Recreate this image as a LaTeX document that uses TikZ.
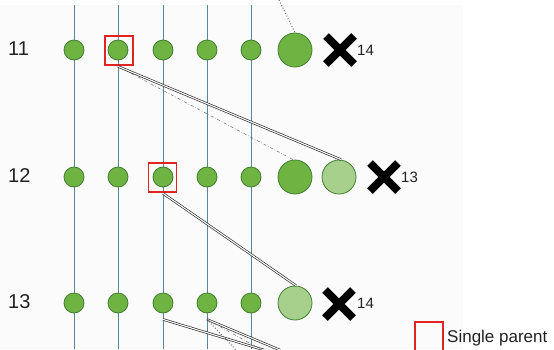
\documentclass[tikz,border=0pt]{standalone}
\usepackage{fontspec}
\setmainfont{Liberation Sans}
\definecolor{gfill}{HTML}{6FB443}
\definecolor{gdraw}{HTML}{3F7F2F}
\definecolor{glight}{HTML}{A8D08D}
\definecolor{vline}{HTML}{5585A0}
\definecolor{boxred}{HTML}{E02424}
\definecolor{txt}{HTML}{222222}
\begin{document}
\begin{tikzpicture}[x=1pt,y=-1pt,
  small/.style={circle, minimum size=20pt, inner sep=0pt, fill=gfill, draw=gdraw, line width=0.8pt},
  big/.style={circle, minimum size=34pt, inner sep=0pt, fill=gfill, draw=gdraw, line width=0.8pt},
  bigl/.style={big, fill=glight},
  rowlab/.style={anchor=base west, inner sep=0pt, text=txt, font=\fontsize{20}{22}\selectfont},
  numlab/.style={anchor=base west, inner sep=0pt, text=txt, font=\fontsize{15}{17}\selectfont},
  redbox/.style={rectangle, minimum width=28pt, minimum height=29pt, inner sep=0pt, draw=boxred, line width=1.3pt},
  xmark/.style={circle, minimum size=50pt, inner sep=0pt,
    path picture={
      \draw[line width=8pt,black] ([shift={(-14pt,-14pt)}]path picture bounding box.center) -- ([shift={(14pt,14pt)}]path picture bounding box.center);
      \draw[line width=8pt,black] ([shift={(-14pt,14pt)}]path picture bounding box.center) -- ([shift={(14pt,-14pt)}]path picture bounding box.center);
    }},
  vert/.style={draw=vline, line width=1pt},
  dbl/.style={draw=black!85, line width=0.65pt, double=white, double distance=1.1pt},
  dashdotline/.style={draw=black!60, line width=0.5pt, dash dot},
  dotline/.style={draw=black!65, line width=0.9pt, dotted}
]
\useasboundingbox (0,0) rectangle (554,349);
\fill[black!1.5] (0,5) rectangle (463,349);

% vertical lines
\foreach \i/\x in {1/74,2/118,3/163,4/207,5/251}{
  \coordinate (t\i) at (\x,5);
  \coordinate (u\i) at (\x,349);
  \draw[vert] (t\i) -- (u\i);
}

% row labels
\node[rowlab] (r11) at (8,55) {11};
\node[rowlab] (r12) at (8,182) {12};
\node[rowlab] (r13) at (8,308) {13};

% circles
\foreach \i/\x in {1/74,2/118,3/163,4/207,5/251}{
  \node[small] (a\i) at (\x,50) {};
  \node[small] (b\i) at (\x,177) {};
  \node[small] (d\i) at (\x,303) {};
}
\node[big]  (A)  at (295,50) {};
\node[big]  (B1) at (295,177) {};
\node[bigl] (B2) at (339,177) {};
\node[bigl] (D)  at (295,303) {};

% red boxes
\node[redbox] (s11) at (119,50.5) {};
\node[redbox] (s12) at (162.5,177.5) {};

% X marks and numbers
\node[xmark] (x11) at (340,50) {};
\node[numlab] (n11) at (357,55) {14};
\node[xmark] (x12) at (384,177) {};
\node[numlab] (n12) at (401,182) {13};
\node[xmark] (x13) at (339,304) {};
\node[numlab] (n13) at (357,308) {14};

% connectors
\coordinate (top) at (279,0);
\draw[dotline] (top) -- (A.north);
\draw[dashdotline] ([yshift=-6pt]a2.south) -- ([xshift=-2pt]B1.north);
\draw[dbl] ([yshift=-6pt]a2.south) -- ([xshift=2pt]B2.north);
\draw[dbl] ([yshift=-6pt]b3.south) -- ([xshift=1pt]D.north);

\coordinate (e1) at (264,350);
\coordinate (e2) at (280,350);
\coordinate (e3) at (262,350);
\coordinate (e4) at (236,350);
\draw[dbl] ([yshift=-6pt]d3.south) -- (e1);
\draw[dbl] ([yshift=-6pt]d4.south) -- (e2);
\draw[dashdotline] ([yshift=-6pt]d4.south) -- (e3);
\draw[dotline] ([yshift=-6pt]d4.south) -- (e4);

% legend
\node[redbox, minimum width=28pt, minimum height=30pt] (leg) at (429,337) {};
\node[anchor=base west, inner sep=0pt, text=txt, font=\fontsize{17}{19}\selectfont] (legt) at (447,342) {Single parent};
\end{tikzpicture}
\end{document}
